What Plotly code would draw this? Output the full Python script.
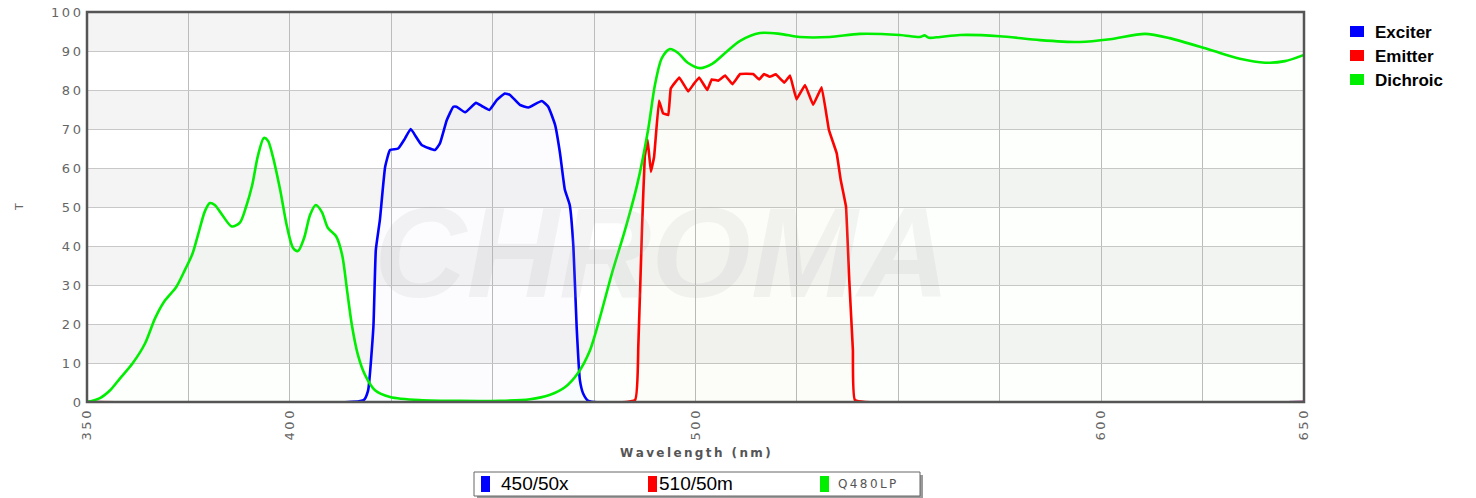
import plotly.graph_objects as go

# ---------------- data ----------------
exciter_x = [350, 418.2, 419.3, 420.6, 421.2, 422.2, 423.5, 424.7, 426.7, 428.4, 429.8, 431.1, 432.5,
             435.8, 437.0, 438.7, 440.3, 441.1, 443.2, 445.9, 447.3, 449.2, 451.0, 453.0, 454.3,
             456.7, 458.8, 462.1, 463.7, 465.4, 466.6, 467.8, 469.0, 469.9, 470.7, 471.5, 472.3, 473.6, 650]
exciter_y = [0, 0.5, 3.0, 19.3, 39.0, 46.7, 60.3, 64.6, 65.0, 67.6, 70.0, 68.0, 65.9,
             64.6, 66.3, 72.3, 75.7, 75.7, 74.3, 76.7, 75.9, 74.9, 77.4, 79.1, 78.7,
             76.2, 75.5, 77.2, 75.7, 71.0, 63.8, 54.4, 50.5, 39.8, 19.3, 5.6, 2.2, 0.3, 0]

emitter_x = [350, 485.1, 485.9, 486.8, 487.5, 488.2, 489.0, 489.8, 491.0, 492.0, 493.3, 493.9, 496.0,
             498.2, 499.4, 500.9, 502.9, 504.0, 505.6, 507.3, 509.1, 511.0, 514.2, 515.7, 516.9,
             518.3, 519.8, 521.9, 523.3, 524.9, 527.0, 529.0, 531.1, 532.9, 534.8, 535.8, 537.1,
             537.9, 538.8, 539.3, 650]
emitter_y = [0, 0.5, 14.2, 44.0, 62.9, 67.2, 59.0, 62.9, 77.3, 74.0, 73.6, 80.4, 83.2,
             79.6, 81.3, 83.2, 80.0, 82.7, 82.4, 83.7, 81.5, 84.1, 84.1, 82.7, 84.1,
             83.4, 84.0, 81.9, 83.7, 77.6, 81.3, 76.2, 80.7, 69.7, 63.8, 56.9, 50.1,
             31.3, 13.3, 0.5, 0]

dichroic_x = [350, 353.2, 355.7, 358.1, 361.3, 364.3, 366.8, 369.2, 372.0, 374.2, 376.0, 377.4, 379.1,
              380.3, 381.5, 383.3, 385.7, 387.7, 389.2, 390.7, 392.1, 393.6, 394.6, 395.8, 397.6,
              399.3, 400.8, 402.0, 403.5, 405.0, 406.4, 407.9, 409.4, 411.4, 412.9, 414.1, 415.3,
              416.8, 418.5, 421.0, 424.7, 432.0, 451.8, 459.2, 464.0, 467.8, 471.0, 474.0, 476.4,
              479.4, 482.6, 485.6, 488.3, 490.0, 491.7, 493.7, 495.7, 498.1, 501.1, 504.1, 507.3,
              511.0, 515.9, 520.8, 525.7, 533.1, 540.5, 550.4, 555.3, 556.5, 557.5, 560.3, 565.2,
              575.0, 584.9, 594.7, 602.2, 610.8, 616.9, 626.8, 634.2, 640.4, 645.3, 650.0]
dichroic_y = [0, 1.0, 3.0, 6.0, 10.0, 15.0, 21.5, 26.0, 29.5, 34.0, 38.0, 43.0, 49.0,
              51.0, 50.5, 48.0, 45.0, 46.0, 50.0, 55.5, 63.0, 67.7, 67.0, 63.0, 54.5,
              45.0, 39.5, 38.7, 42.0, 48.0, 50.5, 48.7, 44.6, 42.5, 37.7, 28.7, 19.7,
              12.0, 7.0, 3.0, 1.3, 0.5, 0.3, 0.7, 1.8, 3.8, 7.4, 13.3, 21.5,
              33.0, 44.0, 55.6, 69.7, 81.3, 88.2, 90.5, 89.5, 87.0, 85.6, 86.7, 89.5,
              92.6, 94.6, 94.4, 93.6, 93.6, 94.4, 94.1, 93.6, 94.0, 93.4, 93.6, 94.1,
              93.8, 92.8, 92.3, 93.0, 94.4, 93.3, 90.3, 88.0, 87.0, 87.4, 89.0]

x_tickvals = [350, 375, 400, 425, 450, 475, 500, 525, 550, 575, 600, 625, 650]
x_ticklabels = ["350", "", "400", "", "", "", "500", "", "", "", "600", "", "650"]
y_tickvals = [0, 10, 20, 30, 40, 50, 60, 70, 80, 90, 100]
y_ticklabels = ["0", "10", "20", "30", "40", "50", "60", "70", "80", "90", "100"]

series_names = ["Exciter", "Emitter", "Dichroic"]
filter_names = ["450/50x", "510/50m", "Q480LP"]
colors = ["#0000ff", "#ff0000", "#00ee00"]
fills = ["rgba(0,0,255,0.01)", "rgba(255,0,0,0.01)", "rgba(0,255,0,0.012)"]

SP = "\u2009"


def spaced(s):
    return SP.join(list(s))


# ---------------- geometry helpers (pixel coords) ----------------
W, H = 1476, 498
L, R, T, B = 87, 1304, 12, 402


def px(x):
    return (x - L) / (R - L)


def py(y):
    return (B - y) / (B - T)


fig = go.Figure()

for xs, ys, name, c, fc, sm in [
    (exciter_x, exciter_y, series_names[0], colors[0], fills[0], 0.4),
    (emitter_x, emitter_y, series_names[1], colors[1], fills[1], 0.2),
    (dichroic_x, dichroic_y, series_names[2], colors[2], fills[2], 0.8),
]:
    fig.add_trace(go.Scatter(
        x=xs, y=ys, name=name, mode="lines",
        line=dict(color=c, width=2.6, shape="spline", smoothing=sm),
        fill="tozeroy", fillcolor=fc, hoverinfo="skip", showlegend=False,
    ))

shapes = []
# alternating background bands
for lo in range(10, 100, 20):
    shapes.append(dict(type="rect", xref="paper", yref="y", x0=0, x1=1, y0=lo, y1=lo + 10,
                       fillcolor="#f4f4f4", line=dict(width=0), layer="below"))
# frame
shapes.append(dict(type="rect", xref="paper", yref="paper", x0=0, x1=1, y0=0, y1=1,
                   line=dict(color="#555555", width=2.5), fillcolor="rgba(0,0,0,0)"))

annotations = []
# watermark
annotations.append(dict(text="<b><i>CHROMA</i></b>", xref="paper", yref="paper",
                        x=px(662), y=py(252), xanchor="center", yanchor="middle", showarrow=False,
                        font=dict(family="Liberation Sans, Arial", size=128, color="rgba(170,170,170,0.13)")))

# right-hand legend
for i, (n, c) in enumerate(zip(series_names, colors)):
    yc = 32 + i * 24
    shapes.append(dict(type="rect", xref="paper", yref="paper",
                       x0=px(1350), x1=px(1364), y0=py(yc + 5), y1=py(yc - 6),
                       fillcolor=c, line=dict(width=0)))
    annotations.append(dict(text="<b>%s</b>" % n, xref="paper", yref="paper",
                            x=px(1373), y=py(yc), xanchor="left", yanchor="middle", showarrow=False,
                            font=dict(family="Liberation Sans, Arial", size=17, color="#000000")))

# bottom legend box with shadow
shapes.append(dict(type="rect", xref="paper", yref="paper", x0=px(477), x1=px(923), y0=py(499), y1=py(475),
                   fillcolor="#9a9a9a", line=dict(width=0)))
shapes.append(dict(type="rect", xref="paper", yref="paper", x0=px(474), x1=px(920), y0=py(496), y1=py(472),
                   fillcolor="#ffffff", line=dict(color="#666666", width=1)))
box_items = [(481, 499, filter_names[0], colors[0]), (648, 657, filter_names[1], colors[1]),
             (820, 836, filter_names[2], colors[2])]
for i, (rx, tx, n, c) in enumerate(box_items):
    shapes.append(dict(type="rect", xref="paper", yref="paper",
                       x0=px(rx), x1=px(rx + 9), y0=py(492), y1=py(476),
                       fillcolor=c, line=dict(width=0)))
    if i < 2:
        f = dict(family="Liberation Sans, Arial", size=19, color="#000000")
        t = n
    else:
        f = dict(family="DejaVu Sans", size=12, color="#555555")
        t = spaced(n)
    annotations.append(dict(text=t, xref="paper", yref="paper", x=px(tx), y=py(484),
                            xanchor="left", yanchor="middle", showarrow=False, font=f))

# axis titles
annotations.append(dict(text="<b>%s</b>" % spaced("Wavelength (nm)"), xref="paper", yref="paper",
                        x=px(695), y=py(453), xanchor="center", yanchor="middle", showarrow=False,
                        font=dict(family="DejaVu Sans", size=12, color="#555555")))
annotations.append(dict(text="T", xref="paper", yref="paper", x=px(19), y=py(207), textangle=-90,
                        xanchor="center", yanchor="middle",
                        showarrow=False, font=dict(family="DejaVu Sans", size=11, color="#666666")))

fig.update_layout(
    width=W, height=H,
    margin=dict(l=L, r=W - R, t=T, b=H - B, autoexpand=False),
    paper_bgcolor="#ffffff", plot_bgcolor="#ffffff",
    shapes=shapes, annotations=annotations, showlegend=False,
    xaxis=dict(range=[350, 650], tickvals=x_tickvals, ticktext=[spaced(s) for s in x_ticklabels],
               tickangle=-90, automargin=False, ticklabelstandoff=5,
               showgrid=True, gridcolor="#bcbcbc", gridwidth=1, zeroline=False, showline=False,
               ticks="", ticklen=0,
               tickfont=dict(family="DejaVu Sans", size=13, color="#666666")),
    yaxis=dict(range=[0, 100], tickvals=y_tickvals, ticktext=[spaced(s) for s in y_ticklabels],
               automargin=False, ticklabelstandoff=5, showgrid=True, gridcolor="#c8c8c8", gridwidth=1,
               zeroline=False, showline=False, ticks="",
               tickfont=dict(family="DejaVu Sans", size=13, color="#666666")),
)

fig.write_html("out.html", config={"displayModeBar": False},
               post_script="document.body.style.margin='0';document.body.style.overflow='hidden';")
